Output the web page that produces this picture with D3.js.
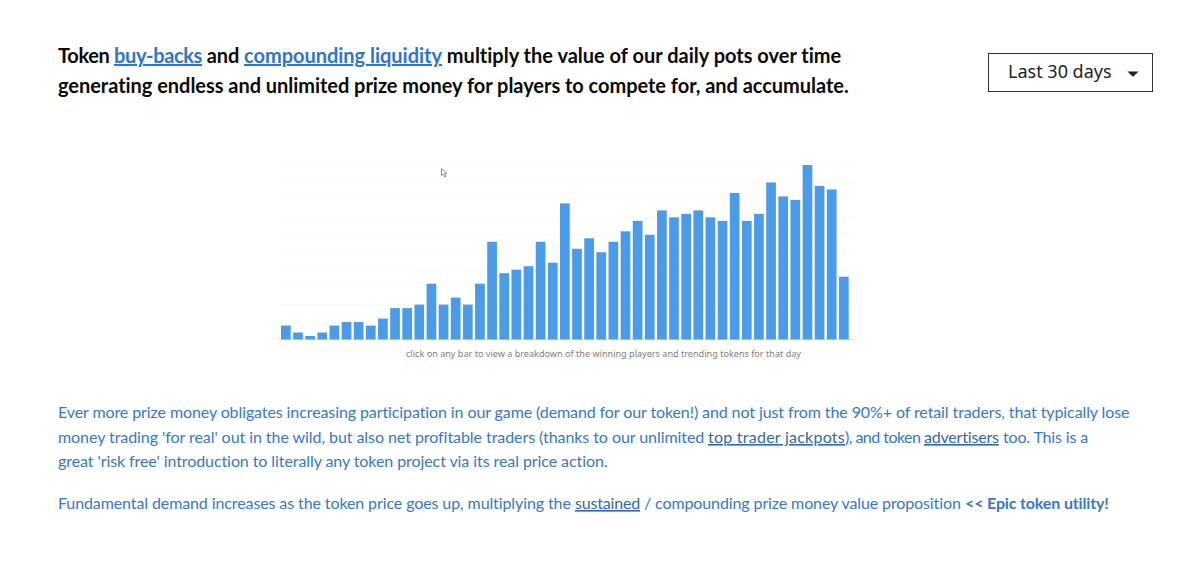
<!DOCTYPE html>
<html><head><meta charset="utf-8">
<script src="https://cdn.jsdelivr.net/npm/d3@7"></script>
<style>
html,body{margin:0;padding:0;background:#fff}
svg{display:block}
text{font-family:Lato,"Open Sans",sans-serif;font-variant-ligatures:common-ligatures}
</style></head><body>
<svg id="c" width="1200" height="572"></svg>
<script>
const days = d3.range(1, 48);
const pots = [4,2,1,2,4,5,5,4,6,9,9,10,16,10,12,10,16,28,19,20,21,28,22,39,26,29,25,28,31,34,30,37,35,36,37,35,34,42,34,36,45,41,40,50,44,43,18];
const gridTicks = [0,5,10,15,20,25,30,35,40,45,50];

// each segment: text, style kind, target width
const titleLines = [
  {y:63, segs:[["Token ",0,56],["buy-backs",1,88],[" and ",0,42],["compounding liquidity",1,198],[" multiply the value of our daily pots over time",0,400]]},
  {y:93, segs:[["generating endless and unlimited prize money for players to compete for, and accumulate.",0,791]]}
];
const bodyLines = [
  {y:418, segs:[["Ever more prize money obligates increasing participation in our game (demand for our token!) and not just from the 90%+ of retail traders, that typically lose",0,1072]]},
  {y:443, segs:[["money trading 'for real' out in the wild, but also net profitable traders (thanks to our unlimited ",0,650],["top trader jackpots",2,137],["), and token ",0,79],["advertisers",2,75],[" too. This is a",0,89]]},
  {y:467, segs:[["great 'risk free' introduction to literally any token project via its real price action.",0,550]]},
  {y:509, segs:[["Fundamental demand increases as the token price goes up, multiplying the ",0,517],["sustained",2,65],[" / compounding prize money value proposition ",0,325],["<< Epic token utility!",3,144]]}
];
const caption = "click on any bar to view a breakdown of the winning players and trending tokens for that day";
const rangeLabel = "Last 30 days";

const svg = d3.select("#c");

function drawLine(line, opts){
  let cx = 58;
  line.segs.forEach(([s,k,w])=>{
    const t = svg.append("text").attr("x",cx).attr("y",line.y)
      .attr("font-size",opts.size).attr("font-weight",k===3?700:opts.weight).attr("fill",opts.fill)
      .style("white-space","pre").text(s);
    if(k===1){t.attr("fill","#2f74d0").style("text-decoration","underline");}
    if(k===2){t.attr("fill","#3068ad").style("text-decoration","underline");}
    const actual = t.node().getComputedTextLength();
    t.style("letter-spacing",((w-actual)/s.length)+"px");
    cx += w;
  });
}
titleLines.forEach(l=>drawLine(l,{size:20,weight:700,fill:"#0b0b0b"}));
bodyLines.forEach(l=>drawLine(l,{size:16,weight:400,fill:"#3577d2"}));

// chart
const x = d3.scaleBand().domain(days).range([279.8,849.9]).paddingInner(0.2).paddingOuter(0.1);
const y = d3.scaleLinear().domain([0,50]).range([339.5,165]);
svg.append("g").selectAll("line").data(gridTicks).join("line")
  .attr("x1",278).attr("x2",855).attr("y1",d=>y(d)).attr("y2",d=>y(d))
  .attr("stroke",d=>d===0?"#dfe6ee":"#fafafa").attr("stroke-width",1);
svg.append("g").selectAll("rect").data(pots).join("rect")
  .attr("x",(d,i)=>x(days[i])).attr("width",x.bandwidth())
  .attr("y",d=>y(d)).attr("height",d=>y(0)-y(d)).attr("fill","#4c9be8");
svg.append("text").attr("x",603.5).attr("y",356.5).attr("text-anchor","middle")
  .attr("font-size",9.1).attr("fill","#808080").style("font-family","'Noto Sans',sans-serif").text(caption);

// cursor
svg.append("path").attr("transform","translate(441,168)")
  .attr("d","M0.5 0.5V7.5L2.2 6L3.6 9L5 8.4L3.7 5.6H6Z").attr("fill","#fff").attr("stroke","#777").attr("stroke-width",0.8);

// dropdown
svg.append("rect").attr("x",988.5).attr("y",53.5).attr("width",164).attr("height",38)
  .attr("fill","#fff").attr("stroke","#333").attr("stroke-width",1);
svg.append("text").attr("x",1008).attr("y",78).attr("font-size",18).attr("fill","#222")
  .style("font-family","'Noto Sans',sans-serif").text(rangeLabel);
svg.append("path").attr("d",d3.symbol(d3.symbolTriangle,24)()).attr("transform","translate(1133,73.2) rotate(180) scale(1.5,0.8)").attr("fill","#222");
</script></body></html>
